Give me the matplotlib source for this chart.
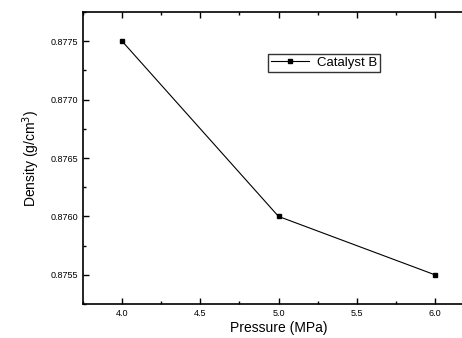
import matplotlib
matplotlib.use("Agg")
import matplotlib.pyplot as plt
from matplotlib.ticker import MultipleLocator

pressure = [4.0, 5.0, 6.0]
density = [0.8775, 0.8760, 0.8755]
series_label = "Catalyst B"

plt.rcParams["font.family"] = ["Liberation Sans", "DejaVu Sans"]

fig = plt.figure(figsize=(4.62, 3.38), dpi=100)
ax = fig.add_axes([83 / 462, 1 - 304 / 338, (474 - 83) / 462, (304 - 12) / 338])

ax.plot(pressure, density, color="black", lw=0.8, marker="s", ms=3.5,
        label=series_label)

ax.set_xlim(3.75, 6.25)
ax.set_ylim(0.87525, 0.87775)
ax.xaxis.set_major_locator(MultipleLocator(0.5))
ax.xaxis.set_minor_locator(MultipleLocator(0.25))
ax.yaxis.set_major_locator(MultipleLocator(0.0005))
ax.yaxis.set_minor_locator(MultipleLocator(0.00025))
ax.xaxis.set_major_formatter(plt.FormatStrFormatter("%.1f"))
ax.yaxis.set_major_formatter(plt.FormatStrFormatter("%.4f"))

ax.tick_params(which="both", direction="in", top=True, right=False,
               labelsize=6.5, width=1)
ax.tick_params(which="major", length=4)
ax.tick_params(which="minor", length=2)
for s in ax.spines.values():
    s.set_linewidth(1.2)

ax.set_xlabel("Pressure (MPa)", fontsize=10, labelpad=2)
ax.set_ylabel("Density (g/cm$^3$)", fontsize=10, labelpad=6)

leg = ax.legend(loc="upper left", bbox_to_anchor=((268 - 83) / 391, 1 - (54 - 12) / 292),
                fontsize=9.5, frameon=True, fancybox=False, edgecolor="black",
                handlelength=2.9, handletextpad=0.6, borderpad=0.2,
                borderaxespad=0, prop={"size": 9.5})
leg.get_frame().set_linewidth(1.0)
for t in leg.get_texts():
    t.set_fontstretch("expanded")

fig.savefig("out.png", dpi=100)
